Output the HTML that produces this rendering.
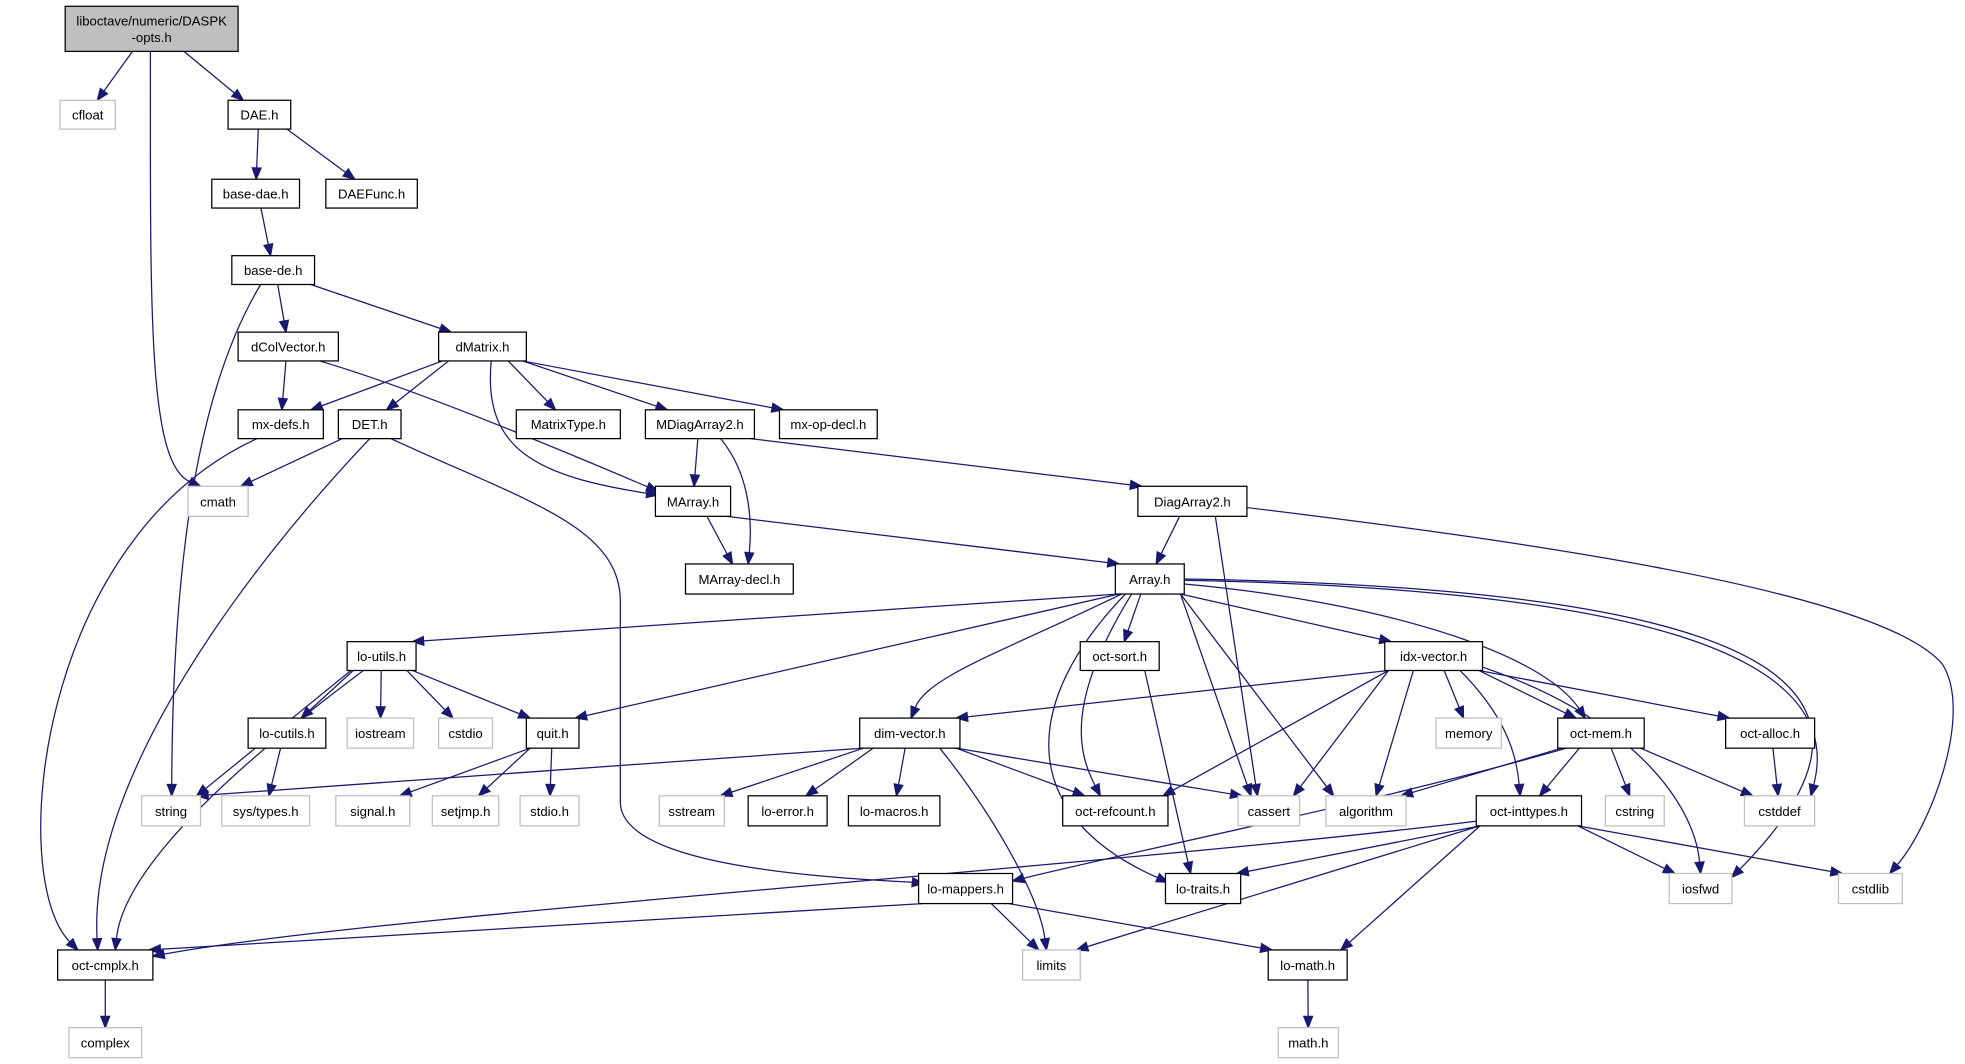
<!DOCTYPE html>
<html><head><meta charset="utf-8"><style>
html,body{margin:0;padding:0;background:#fff;}
svg{display:block}
text{font-family:"Liberation Sans",sans-serif;font-size:10.5px;fill:#000}
</style></head><body>
<svg id="g" width="1965" height="1064" viewBox="0 0 1568 849" xmlns="http://www.w3.org/2000/svg"></svg>
<script>
const N={
root:[52,5,190,41,"liboctave/numeric/DASPK\n-opts.h",2],
cfloat:[48,80,92,103,"cfloat",1],
DAE:[182,80,232,103,"DAE.h"],
bdae:[169,143,239,166,"base-dae.h"],
DAEF:[260,143,333,166,"DAEFunc.h"],
bde:[185,204,251,227,"base-de.h"],
dcv:[190,265,270,288,"dColVector.h"],
dm:[350,265,420,288,"dMatrix.h"],
mxd:[190,327,258,350,"mx-defs.h"],
DET:[270,327,320,350,"DET.h"],
mt:[412,327,495,350,"MatrixType.h"],
mda:[515,327,602,350,"MDiagArray2.h"],
mxo:[622,327,700,350,"mx-op-decl.h"],
cmath:[150,388,198,412,"cmath",1],
ma:[523,388,583,412,"MArray.h"],
da:[908,388,995,412,"DiagArray2.h"],
mad:[547,450,633,474,"MArray-decl.h"],
arr:[890,450,945,474,"Array.h"],
lu:[277,512,332,535,"lo-utils.h"],
os:[862,512,925,535,"oct-sort.h"],
iv:[1105,512,1183,535,"idx-vector.h"],
lc:[198,573,260,597,"lo-cutils.h"],
ios:[277,573,330,597,"iostream",1],
cstdio:[350,573,393,597,"cstdio",1],
quit:[420,573,462,597,"quit.h"],
dv:[686,573,766,597,"dim-vector.h"],
mem:[1146,573,1198,597,"memory",1],
om:[1243,573,1312,597,"oct-mem.h"],
oa:[1377,573,1448,597,"oct-alloc.h"],
str:[113,635,160,659,"string",1],
syst:[177,635,247,659,"sys/types.h",1],
sig:[268,635,327,659,"signal.h",1],
sj:[345,635,398,659,"setjmp.h",1],
stdio:[415,635,462,659,"stdio.h",1],
ss:[526,635,578,659,"sstream",1],
le:[597,635,660,659,"lo-error.h"],
lm:[677,635,750,659,"lo-macros.h"],
orc:[848,635,932,659,"oct-refcount.h"],
cas:[988,635,1037,659,"cassert",1],
alg:[1058,635,1122,659,"algorithm",1],
oit:[1178,635,1262,659,"oct-inttypes.h"],
cstr:[1281,635,1328,659,"cstring",1],
cdef:[1392,635,1448,659,"cstddef",1],
lmap:[733,697,808,721,"lo-mappers.h"],
ltr:[930,697,990,721,"lo-traits.h"],
iosf:[1332,697,1382,721,"iosfwd",1],
cstdl:[1467,697,1518,721,"cstdlib",1],
occ:[46,758,122,782,"oct-cmplx.h"],
lim:[816,758,862,782,"limits",1],
lmath:[1012,758,1075,782,"lo-math.h"],
cplx:[55,820,113,844,"complex",1],
mathh:[1020,820,1068,844,"math.h",1]
};
const E=[
["root","cfloat"],[120,41,120,250,118,370,160,388],["root","DAE"],
["DAE","bdae"],["DAE","DAEF"],["bdae","bde"],
[208,227,170,290,138,400,137,635],["bde","dcv"],["bde","dm"],
["dcv","mxd"],[255,288,330,310,450,360,525,392],
["dm","mxd"],["dm","DET"],[392,288,385,360,430,380,525,395],["dm","mt"],["dm","mda"],["dm","mxo"],
[205,350,30,430,5,700,62,758],
["DET","cmath"],[295,350,200,450,70,620,78,758],[312,350,420,400,495,420,495,480],
["mda","ma"],[575,350,600,380,600,420,597,450],["mda","da"],
["ma","mad"],["ma","arr"],
["da","arr"],["da","cas"],[995,405,1200,430,1500,470,1550,530],
["arr","lu"],["arr","quit"],[895,474,800,520,740,540,727,573],[903,474,850,560,860,600,878,635],[898,474,815,560,810,650,932,704],
["arr","os"],["arr","cas"],["arr","alg"],["arr","iv"],[945,466,1100,480,1230,520,1265,573],[945,463,1300,470,1475,520,1445,635],[945,462,1450,470,1520,560,1382,700],
["lu","lc"],["lu","ios"],["lu","cstdio"],["lu","quit"],["lu","str"],[290,535,230,580,100,680,92,758],
["lc","syst"],["quit","sig"],["quit","sj"],["quit","stdio"],
["os","ltr"],
["iv","dv"],["iv","orc"],["iv","cas"],["iv","alg"],["iv","mem"],["iv","om"],[1165,535,1200,570,1210,600,1213,635],[1176,530,1300,570,1352,640,1357,697],["iv","oa"],
["dv","str"],["dv","ss"],["dv","le"],["dv","lm"],["dv","orc"],["dv","cas"],[750,597,800,660,830,720,835,758],
[1250,597,1100,640,900,680,808,703],["om","alg"],["om","oit"],["om","cstr"],["om","cdef"],
["oa","cdef"],
[1180,655,900,690,300,730,122,763],["oit","ltr"],["oit","lim"],["oit","lmath"],["oit","iosf"],["oit","cstdl"],
["lmap","occ"],["lmap","lim"],["lmap","lmath"],
["occ","cplx"],["lmath","mathh"]
];
const svg=document.getElementById('g');let h='';
function c(n){return [(n[0]+n[2])/2,(n[1]+n[3])/2];}
function arrow(x,y,dx,dy){const L=Math.hypot(dx,dy)||1;dx/=L;dy/=L;const bx=x-dx*9,by=y-dy*9,px=-dy*3.5,py=dx*3.5;
return `<polygon points="${x},${y} ${bx+px},${by+py} ${bx-px},${by-py}" fill="#191970" stroke="#191970"/>`;}
for(const e of E){
if(typeof e[0]=="number"){
 let [x0,y0,a,b,cc,d,x1,y1]=e;
 if(x1===495&&y1===480){
  h+=`<path d="M${x0},${y0}C${a},${b} ${cc},${d} 495,480L495,640C495,690 650,700 728,704" fill="none" stroke="#191970"/>`+arrow(737,705,9,1);continue;}
 if(x1===1550&&y1===530){
  h+=`<path d="M${x0},${y0}C${a},${b} ${cc},${d} 1550,530C1575,570 1540,660 1514,690" fill="none" stroke="#191970"/>`+arrow(1508,697,-6,7);continue;}
 const dx=x1-cc,dy=y1-d,L=Math.hypot(dx,dy);
 h+=`<path d="M${x0},${y0}C${a},${b} ${cc},${d} ${x1-dx/L*9},${y1-dy/L*9}" fill="none" stroke="#191970"/>`+arrow(x1,y1,dx,dy);continue;}
const [a,b]=e;const s=N[a],t=N[b];const[sx]=c(s),[tx]=c(t);
const hw=(s[2]-s[0])/2-3;const x0=sx+Math.max(-hw,Math.min(hw,(tx-sx)*0.3)),y0=s[3];
const thw=(t[2]-t[0])/2-3;const x1=tx+Math.max(-thw,Math.min(thw,(sx-tx)*0.15)),y1=t[1];
const L=Math.hypot(x1-x0,y1-y0),dx=(x1-x0)/L,dy=(y1-y0)/L;
h+=`<path d="M${x0},${y0}L${x1-dx*9},${y1-dy*9}" fill="none" stroke="#191970"/>`+arrow(x1,y1,dx,dy);}
for(const k in N){const n=N[k];const gray=n[5]==1,root=n[5]==2;
h+=`<rect x="${n[0]}" y="${n[1]}" width="${n[2]-n[0]}" height="${n[3]-n[1]}" fill="${root?'#bfbfbf':'#fff'}" stroke="${gray?'#bfbfbf':'#000'}" stroke-width="1"/>`;
const lines=n[4].split('\n');const cy=(n[1]+n[3])/2;
lines.forEach((l,i)=>{const y=cy+4+(i-(lines.length-1)/2)*13;h+=`<text x="${(n[0]+n[2])/2}" y="${y}" text-anchor="middle">${l}</text>`;});}
svg.innerHTML=h;
</script>
</body></html>
